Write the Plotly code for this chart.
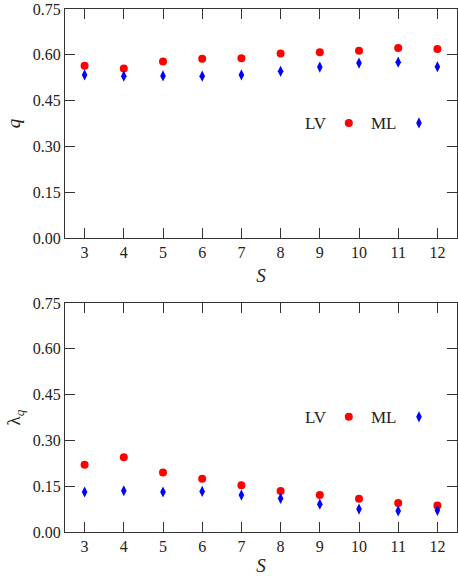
import plotly.graph_objects as go

S = [3, 4, 5, 6, 7, 8, 9, 10, 11, 12]
q_LV = [0.564, 0.555, 0.578, 0.587, 0.589, 0.604, 0.608, 0.613, 0.622, 0.619]
q_ML = [0.534, 0.530, 0.531, 0.530, 0.534, 0.546, 0.560, 0.573, 0.576, 0.561]
lam_LV = [0.220, 0.245, 0.195, 0.174, 0.153, 0.134, 0.121, 0.109, 0.095, 0.087]
lam_ML = [0.131, 0.135, 0.131, 0.133, 0.121, 0.110, 0.091, 0.075, 0.069, 0.071]
yticks = [0.0, 0.15, 0.30, 0.45, 0.60, 0.75]
ytick_text = ["0.00", "0.15", "0.30", "0.45", "0.60", "0.75"]

FONT = "Liberation Serif, DejaVu Serif, serif"
RED = "#ff0000"
BLUE = "#0000ff"
LINE = "#333333"
TXT = "#222222"

fig = go.Figure()
fig.add_trace(go.Scatter(x=S, y=q_LV, mode="markers", name="", legend="legend",
                         marker=dict(symbol="circle", size=8, color=RED),
                         xaxis="x", yaxis="y"))
fig.add_trace(go.Scatter(x=S, y=q_ML, mode="markers", name="", legend="legend3",
                         marker=dict(symbol="diamond-tall", size=8, color=BLUE),
                         xaxis="x", yaxis="y"))
fig.add_trace(go.Scatter(x=S, y=lam_LV, mode="markers", name="", legend="legend2",
                         marker=dict(symbol="circle", size=8, color=RED),
                         xaxis="x2", yaxis="y2"))
fig.add_trace(go.Scatter(x=S, y=lam_ML, mode="markers", name="", legend="legend4",
                         marker=dict(symbol="diamond-tall", size=8, color=BLUE),
                         xaxis="x2", yaxis="y2"))

axis_common = dict(showline=True, linecolor=LINE, linewidth=1.3, mirror="ticks",
                   ticks="inside", ticklen=10, tickwidth=1.2, tickcolor=LINE,
                   showgrid=False, zeroline=False,
                   tickfont=dict(family=FONT, size=16, color=TXT))

top_dom = [0.562, 1.0]
bot_dom = [0.0, 0.438]

legend_common = dict(orientation="h", xanchor="left", yanchor="middle",
                     xref="paper", yref="paper",
                     bgcolor="rgba(0,0,0,0)", font=dict(family=FONT, size=16))

ann_font = dict(family=FONT, size=17, color=TXT)

fig.update_layout(
    width=458, height=576,
    margin=dict(l=65, r=1, t=9, b=44, autoexpand=False),
    paper_bgcolor="white", plot_bgcolor="white",
    font=dict(family=FONT, size=16, color=TXT),
    xaxis=dict(domain=[0, 1], anchor="y", range=[2.5, 12.5], tickvals=S,
               title=dict(text="<i>S</i>", standoff=8), **axis_common),
    yaxis=dict(domain=top_dom, anchor="x", range=[0, 0.75], tickvals=yticks,
               ticktext=ytick_text, title=dict(text="<i>q</i>", standoff=6), **axis_common),
    xaxis2=dict(domain=[0, 1], anchor="y2", range=[2.5, 12.5], tickvals=S,
                title=dict(text="<i>S</i>", standoff=8), **axis_common),
    yaxis2=dict(domain=bot_dom, anchor="x2", range=[0, 0.75], tickvals=yticks,
                ticktext=ytick_text, title=dict(text="λ<sub><i>q</i></sub>", standoff=6),
                **axis_common),
    legend=dict(x=0.673, y=0.782, **legend_common),
    legend3=dict(x=0.852, y=0.782, **legend_common),
    legend2=dict(x=0.673, y=0.22, **legend_common),
    legend4=dict(x=0.852, y=0.22, **legend_common),
    annotations=[
        dict(text="LV", xref="x domain", yref="y domain", x=0.64, y=0.5, showarrow=False,
             xanchor="center", yanchor="middle", font=ann_font),
        dict(text="ML", xref="x domain", yref="y domain", x=0.815, y=0.5, showarrow=False,
             xanchor="center", yanchor="middle", font=ann_font),
        dict(text="LV", xref="x2 domain", yref="y2 domain", x=0.64, y=0.5, showarrow=False,
             xanchor="center", yanchor="middle", font=ann_font),
        dict(text="ML", xref="x2 domain", yref="y2 domain", x=0.815, y=0.5, showarrow=False,
             xanchor="center", yanchor="middle", font=ann_font),
    ],
    showlegend=True,
)

fig.write_html("out.html", config={"displayModeBar": False},
               post_script="document.body.style.margin='0px';document.body.style.overflow='hidden';")
